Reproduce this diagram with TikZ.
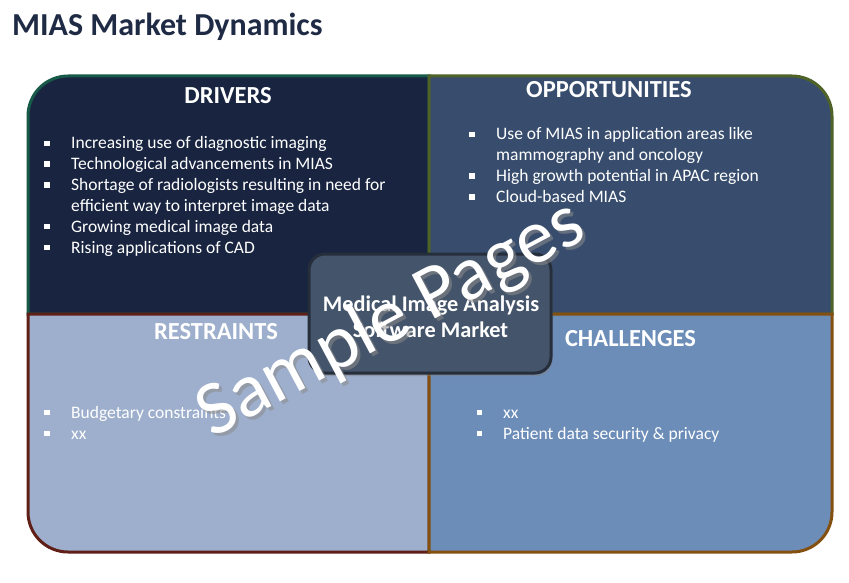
\documentclass[tikz,border=0pt]{standalone}
\usepackage{fontspec}
\setmainfont{Carlito}
\usetikzlibrary{shadows}
\definecolor{titlecol}{HTML}{1F2B45}
\definecolor{drvfill}{HTML}{182440}
\definecolor{oppfill}{HTML}{384D6D}
\definecolor{resfill}{HTML}{9DAFCC}
\definecolor{chafill}{HTML}{6D8DB9}
\definecolor{drvline}{HTML}{185A48}
\definecolor{oppline}{HTML}{4F6228}
\definecolor{resline}{HTML}{5F1F16}
\definecolor{chaline}{HTML}{845010}
\definecolor{boxfill}{HTML}{44546A}
\definecolor{boxline}{HTML}{262E3B}
\begin{document}
\begin{tikzpicture}[x=1pt,y=-1pt,
  quad/.style={line width=3pt},
  head/.style={anchor=base, text=white, font=\fontsize{24.5}{28}\selectfont\bfseries, inner sep=0pt},
  btxt/.style={anchor=base west, text=white, font=\fontsize{17.5}{21}\selectfont, inner sep=0pt},
  bsq/.style={fill=white, minimum size=5.5pt, inner sep=0pt, draw=none},
  cbox/.style={minimum width=242pt, minimum height=119pt, rounded corners=16pt, fill=boxfill, draw=boxline, line width=3pt, drop shadow={shadow xshift=1.5pt, shadow yshift=-3pt, opacity=0.45}},
  ctxt/.style={anchor=base, text=white, font=\fontsize{22.3}{26}\selectfont\bfseries, inner sep=0pt},
  wm/.style={anchor=base, rotate=28, font=\fontsize{77}{77}\selectfont, inner sep=0pt},
]
\useasboundingbox (0,0) rectangle (849,583);
\fill[white] (0,0) rectangle (849,583);

\node[anchor=base west, inner sep=0pt, text=titlecol, font=\fontsize{32}{36}\selectfont\bfseries] (title) at (12,36) {MIAS Market Dynamics};

% quadrants
\filldraw[quad, fill=drvfill, draw=drvline] (28,314) -- (28,116) arc[start angle=180, end angle=270, radius=40] -- (429,76) -- (429,314) -- cycle;
\filldraw[quad, fill=oppfill, draw=oppline] (429,76) -- (792,76) arc[start angle=270, end angle=360, radius=40] -- (832,314) -- (429,314) -- cycle;
\filldraw[quad, fill=resfill, draw=resline] (28,314) -- (429,314) -- (429,552) -- (68,552) arc[start angle=90, end angle=180, radius=40] -- cycle;
\filldraw[quad, fill=chafill, draw=chaline] (429,314) -- (832,314) -- (832,512) arc[start angle=0, end angle=90, radius=40] -- (429,552) -- cycle;

% headings
\node[head] (hdrv) at (228,104) {DRIVERS};
\node[head] (hopp) at (609,98) {OPPORTUNITIES};
\node[head] (hres) at (216,339) {RESTRAINTS};
\node[head] (hcha) at (630.5,346) {CHALLENGES};

% drivers
\node[bsq] (d1b) at (47,143.3) {};
\node[btxt] (d1) at (71,149) {Increasing use of diagnostic imaging};
\node[bsq] (d2b) at (47,164.1) {};
\node[btxt] (d2) at (71,169.8) {Technological advancements in MIAS};
\node[bsq] (d3b) at (47,184.9) {};
\node[btxt] (d3) at (71,190.6) {Shortage of radiologists resulting in need for};
\node[btxt] (d3c) at (71,211.4) {efficient way to interpret image data};
\node[bsq] (d4b) at (47,226.5) {};
\node[btxt] (d4) at (71,232.2) {Growing medical image data};
\node[bsq] (d5b) at (47,247.3) {};
\node[btxt] (d5) at (71,253) {Rising applications of CAD};

% opportunities
\node[bsq] (o1b) at (472,134.3) {};
\node[btxt] (o1) at (496,140) {Use of MIAS in application areas like};
\node[btxt] (o1c) at (496,160.8) {mammography and oncology};
\node[bsq] (o2b) at (472,176) {};
\node[btxt] (o2) at (496,181.7) {High growth potential in APAC region};
\node[bsq] (o3b) at (472,197) {};
\node[btxt] (o3) at (496,202.7) {Cloud-based MIAS};

% restraints
\node[bsq] (r1b) at (47,412.3) {};
\node[btxt] (r1) at (71,418) {Budgetary constraints};
\node[bsq] (r2b) at (47,433.3) {};
\node[btxt] (r2) at (71,439) {xx};

% challenges
\node[bsq] (c1b) at (479.5,412.3) {};
\node[btxt] (c1) at (503,418) {xx};
\node[bsq] (c2b) at (479.5,433.3) {};
\node[btxt] (c2) at (503,439) {Patient data security \& privacy};

% center
\node[cbox] (core) at (430,313.5) {};
\node[ctxt] (core1) at (431,311) {Medical Image Analysis};
\node[ctxt] (core2) at (430.5,337.7) {Software Market};

% watermark
\node[wm, text=black!45, opacity=0.55] (wmshadow) at (403.5,341) {Sample Pages};
\node[wm, text=white] (wmark) at (400.5,338) {Sample Pages};
\end{tikzpicture}
\end{document}
